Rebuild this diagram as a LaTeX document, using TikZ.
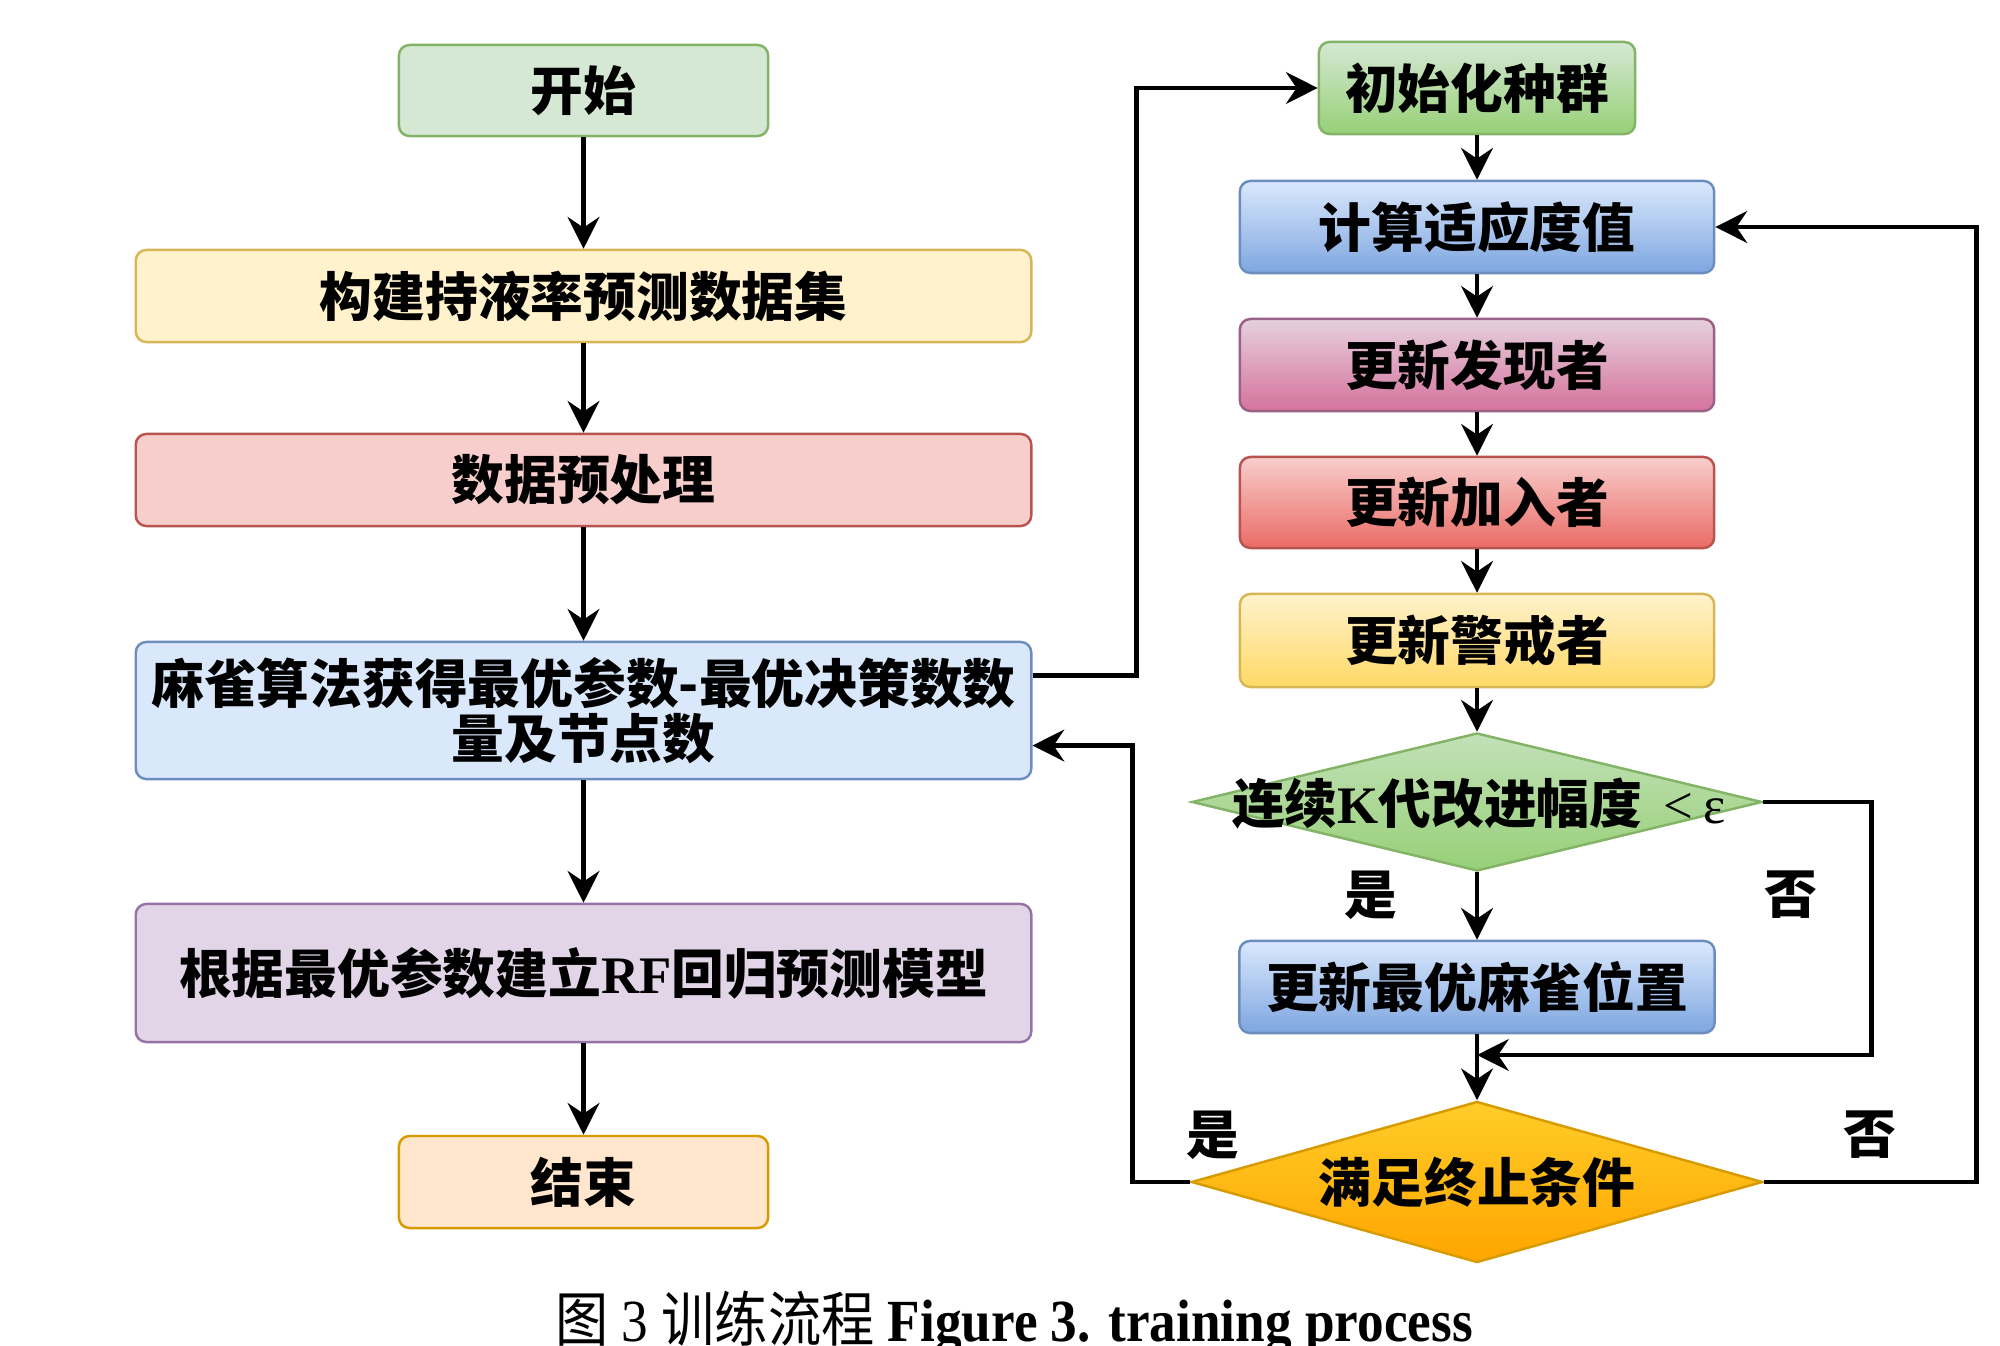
\documentclass[tikz,border=0pt]{standalone}
\usepackage{fontspec}
\setmainfont{Liberation Serif}
\newfontfamily\cjk{Noto Sans CJK SC}
\newfontfamily\tnr{Liberation Serif}
\usetikzlibrary{shapes.geometric,arrows.meta}
\definecolor{gF}{HTML}{D5E8D4}\definecolor{gS}{HTML}{82B366}\definecolor{gB}{HTML}{97D077}
\definecolor{yF}{HTML}{FFF2CC}\definecolor{yS}{HTML}{D6B656}\definecolor{yB}{HTML}{FFD966}
\definecolor{rF}{HTML}{F8CECC}\definecolor{rS}{HTML}{B85450}\definecolor{rB}{HTML}{EA6B66}
\definecolor{bF}{HTML}{DAE8FC}\definecolor{bS}{HTML}{6C8EBF}\definecolor{bB}{HTML}{7EA6E0}
\definecolor{pF}{HTML}{E1D5E7}\definecolor{pS}{HTML}{9673A6}
\definecolor{oF}{HTML}{FFE6CC}\definecolor{oS}{HTML}{D79B00}
\definecolor{mF}{HTML}{E6D0DE}\definecolor{mS}{HTML}{996185}\definecolor{mB}{HTML}{D5739D}
\definecolor{dT}{HTML}{FFCD28}\definecolor{dB}{HTML}{FFA500}
\begin{document}
\begin{tikzpicture}[x=0.01cm,y=-0.01cm,
  box/.style={draw, rounded corners=3pt, line width=0.7pt, inner sep=0pt, align=center,
    font=\cjk\bfseries\fontsize{15pt}{15.5pt}\selectfont},
  lbl/.style={inner sep=0pt, font=\cjk\bfseries\fontsize{15pt}{15.5pt}\selectfont},
  dia/.style={diamond, draw, line width=0.7pt, inner sep=0pt},
  arr/.style={line width=1.4pt, -{Stealth[length=9pt,width=9pt,inset=3pt]}}]
\useasboundingbox (0,0) rectangle (2000,1346);
% left column
\node[box, fill=gF, draw=gS, minimum width=3.69cm, minimum height=0.91cm] (start) at (583.5,90.5) {开始};
\node[box, fill=yF, draw=yS, minimum width=8.95cm, minimum height=0.92cm] (build) at (583.5,296) {构建持液率预测数据集};
\node[box, fill=rF, draw=rS, minimum width=8.95cm, minimum height=0.92cm] (pre) at (583.5,480) {数据预处理};
\node[box, fill=bF, draw=bS, minimum width=8.95cm, minimum height=1.37cm] (ma) at (583.5,710.5) {麻雀算法获得最优参数-最优决策数数\\量及节点数};
\node[box, fill=pF, draw=pS, minimum width=8.95cm, minimum height=1.38cm] (rf) at (583.5,973) {根据最优参数建立{\tnr\bfseries RF}回归预测模型};
\node[box, fill=oF, draw=oS, minimum width=3.69cm, minimum height=0.92cm] (end) at (583.5,1182) {结束};
% right column
\node[box, top color=gF, bottom color=gB, draw=gS, minimum width=3.16cm, minimum height=0.92cm] (init) at (1477,88) {初始化种群};
\node[box, top color=bF, bottom color=bB, draw=bS, minimum width=4.74cm, minimum height=0.92cm] (calc) at (1477,227) {计算适应度值};
\node[box, top color=mF, bottom color=mB, draw=mS, minimum width=4.74cm, minimum height=0.92cm] (find) at (1477,365) {更新发现者};
\node[box, top color=rF, bottom color=rB, draw=rS, minimum width=4.74cm, minimum height=0.91cm] (join) at (1477,502.5) {更新加入者};
\node[box, top color=yF, bottom color=yB, draw=yS, minimum width=4.74cm, minimum height=0.93cm] (warn) at (1477,640.5) {更新警戒者};
\node[dia, top color=gF!70!gB, bottom color=gB, draw=gS, minimum width=5.7cm, minimum height=1.38cm] (d1) at (1477,802) {};
\node[lbl] (d1t) at (1479,804) {连续{\tnr\bfseries K}代改进幅度\hspace{6pt}{\tnr\mdseries\fontsize{15pt}{15pt}\selectfont <\hspace{3pt}ε}};
\node[box, top color=bF, bottom color=bB, draw=bS, minimum width=4.75cm, minimum height=0.92cm] (best) at (1477,987) {更新最优麻雀位置};
\node[dia, top color=dT, bottom color=dB, draw=oS, minimum width=5.71cm, minimum height=1.61cm] (d2) at (1477,1182) {};
\node[lbl] (d2t) at (1477,1182) {满足终止条件};
\coordinate (m) at (1477,1055);
% labels
\node[lbl] (y1) at (1371,895) {是};
\node[lbl] (n1) at (1791,895) {否};
\node[lbl] (y2) at (1213,1135) {是};
\node[lbl] (n2) at (1870,1135) {否};
% arrows left
\draw[arr] (start) -- (build);
\draw[arr] (build) -- (pre);
\draw[arr] (pre) -- (ma);
\draw[arr] (ma) -- (rf);
\draw[arr] (rf) -- (end);
% arrows right
\draw[arr] (init) -- (calc);
\draw[arr] (calc) -- (find);
\draw[arr] (find) -- (join);
\draw[arr] (join) -- (warn);
\draw[arr] (warn) -- (d1.north);
\draw[arr] (d1.south) -- (best);
\draw[arr] (best) -- (d2.north);
\draw[arr] (d1.east) -- ++(108,0) |- (m);
\draw[arr] ([yshift=0.35cm]ma.east) -- ++(104,0) |- (init.west);
\draw[arr] (d2.west) -- ++(-58,0) |- ([yshift=-0.35cm]ma.east);
\draw[arr] (d2.east) -- ++(213,0) |- (calc.east);
% caption
\node[anchor=base, inner sep=0pt] (cap) at (1014,1341) {\scalebox{0.89}[1]{\fontsize{17pt}{17pt}\selectfont{\cjk 图} 3 {\cjk 训练流程} \textbf{Figure 3. training process}}};
\end{tikzpicture}
\end{document}
